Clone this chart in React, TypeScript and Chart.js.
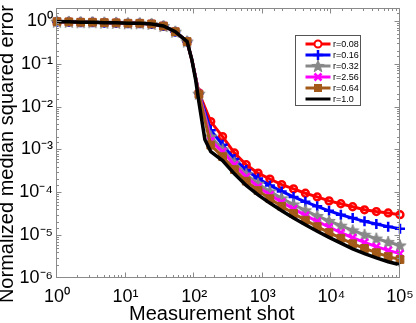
import React, { useEffect, useRef } from "react";
import { Chart, registerables } from "chart.js";

Chart.register(...registerables);

// Measurement shots (x) where the colored series are sampled; 92.5 is a knee point without marker
const shots = [1, 1.487, 2.212, 3.29, 4.894, 7.279, 10.83, 16.1, 23.95, 35.62, 52.98, 78.8, 92.5, 117.2, 174.3, 259.3, 385.7, 573.6, 853.2, 1269, 1887, 2807, 4175, 6210, 9237, 13738, 20434, 30392, 45204, 67234, 100000];
const knee = 92.5;

const early = [0.96, 0.95, 0.93, 0.93, 0.91, 0.9, 0.88, 0.88, 0.85, 0.76, 0.56, 0.33, 0.123];

const r008 = [...early, 0.0209, 4.47e-3, 2.0e-3, 8.3e-4, 4.4e-4, 2.8e-4, 2.04e-4, 1.51e-4, 1.2e-4, 9.5e-5, 7.8e-5, 6.3e-5, 5.4e-5, 4.6e-5, 3.9e-5, 3.55e-5, 3.3e-5, 3.0e-5];
const r016 = [...early, 0.0204, 2.82e-3, 1.29e-3, 6.0e-4, 3.3e-4, 2.09e-4, 1.45e-4, 1.05e-4, 7.8e-5, 6.0e-5, 4.7e-5, 3.7e-5, 3.0e-5, 2.5e-5, 2.1e-5, 1.82e-5, 1.58e-5, 1.41e-5];
const r032 = [...early, 0.02, 2.0e-3, 1.0e-3, 4.9e-4, 2.63e-4, 1.58e-4, 1.05e-4, 7.2e-5, 5.2e-5, 3.8e-5, 2.8e-5, 2.14e-5, 1.66e-5, 1.29e-5, 1.02e-5, 8.3e-6, 6.9e-6, 5.75e-6];
const r256 = [...early, 0.02, 1.58e-3, 8.9e-4, 4.4e-4, 2.29e-4, 1.35e-4, 8.7e-5, 5.9e-5, 4.1e-5, 2.9e-5, 2.1e-5, 1.55e-5, 1.15e-5, 8.7e-6, 6.8e-6, 5.4e-6, 4.4e-6, 3.7e-6];
const r064 = [...early, 0.0195, 1.26e-3, 6.8e-4, 3.4e-4, 1.82e-4, 1.1e-4, 7.1e-5, 4.7e-5, 3.2e-5, 2.24e-5, 1.58e-5, 1.15e-5, 8.5e-6, 6.3e-6, 4.9e-6, 3.9e-6, 3.16e-6, 2.7e-6];

// r = 1.0 curve (no markers), with a few extra samples in the steep drop
const shotsR1 = [1, 1.487, 2.212, 3.29, 4.894, 7.279, 10.83, 16.1, 23.95, 35.62, 52.98, 78.8, 92.5, 105, 117.2, 143, 174.3, 259.3, 385.7, 573.6, 853.2, 1269, 1887, 2807, 4175, 6210, 9237, 13738, 20434, 30392, 45204, 67234, 100000];
const r100 = [0.96, 0.95, 0.93, 0.93, 0.91, 0.9, 0.88, 0.88, 0.85, 0.76, 0.56, 0.33, 0.123, 0.042, 0.0126, 1.7e-3, 8.9e-4, 5.5e-4, 2.7e-4, 1.45e-4, 8.7e-5, 5.6e-5, 3.7e-5, 2.5e-5, 1.74e-5, 1.23e-5, 8.9e-6, 6.5e-6, 4.8e-6, 3.7e-6, 2.95e-6, 2.4e-6, 2.04e-6];

const labels = ["r=0.08", "r=0.16", "r=0.32", "r=2.56", "r=0.64", "r=1.0"];
const colors = ["#ff0000", "#0000ff", "#888888", "#ff00ff", "#a35a18", "#000000"];

const FONT = "'Liberation Sans', Arial, Helvetica, sans-serif";
const SUP: Record<string, string> = { "0": "⁰", "1": "¹", "2": "²", "3": "³", "4": "⁴", "5": "⁵", "6": "⁶", "7": "⁷", "8": "⁸", "9": "⁹", "-": "⁻" };

function isPow10(v: number) {
  const e = Math.round(Math.log10(v));
  return Math.abs(v / Math.pow(10, e) - 1) < 1e-6;
}
function powLabel(v: number) {
  if (!isPow10(v)) return "";
  const e = String(Math.round(Math.log10(v)));
  return "10" + e.split("").map((c) => SUP[c]).join("");
}

function makeStar(): HTMLCanvasElement {
  const c = document.createElement("canvas");
  c.width = 14;
  c.height = 14;
  const g = c.getContext("2d")!;
  g.beginPath();
  for (let i = 0; i < 10; i++) {
    const rad = i % 2 === 0 ? 6.5 : 2.7;
    const a = -Math.PI / 2 + (i * Math.PI) / 5;
    const px = 7 + rad * Math.cos(a);
    const py = 7.5 + rad * Math.sin(a);
    if (i === 0) g.moveTo(px, py);
    else g.lineTo(px, py);
  }
  g.closePath();
  g.fillStyle = "#888888";
  g.fill();
  g.strokeStyle = "#888888";
  g.lineWidth = 1;
  g.stroke();
  return c;
}

function drawMarker(ctx: CanvasRenderingContext2D, kind: string, x: number, y: number, color: string, star: HTMLCanvasElement) {
  ctx.save();
  ctx.strokeStyle = color;
  ctx.fillStyle = color;
  if (kind === "circle") {
    ctx.lineWidth = 2;
    ctx.fillStyle = "#fff";
    ctx.beginPath();
    ctx.arc(x, y, 3.5, 0, Math.PI * 2);
    ctx.fill();
    ctx.stroke();
  } else if (kind === "cross") {
    ctx.lineWidth = 2.5;
    ctx.beginPath();
    ctx.moveTo(x - 5, y);
    ctx.lineTo(x + 5, y);
    ctx.moveTo(x, y - 5);
    ctx.lineTo(x, y + 5);
    ctx.stroke();
  } else if (kind === "star") {
    ctx.drawImage(star, x - 7, y - 7);
  } else if (kind === "crossRot") {
    ctx.lineWidth = 2.5;
    ctx.beginPath();
    ctx.moveTo(x - 3.5, y - 3.5);
    ctx.lineTo(x + 3.5, y + 3.5);
    ctx.moveTo(x - 3.5, y + 3.5);
    ctx.lineTo(x + 3.5, y - 3.5);
    ctx.stroke();
  } else if (kind === "rect") {
    ctx.fillRect(x - 4, y - 4, 8, 8);
  }
  ctx.restore();
}

export default function App() {
  const ref = useRef<HTMLCanvasElement>(null);

  useEffect(() => {
    const star = makeStar();
    const kinds = ["circle", "cross", "star", "crossRot", "rect", "none"];

    const frame = {
      id: "frameTicks",
      afterDraw(chart: any) {
        const ctx = chart.ctx as CanvasRenderingContext2D;
        const { left, right, top, bottom } = chart.chartArea;
        ctx.save();
        ctx.strokeStyle = "#8a8a8a";
        ctx.lineWidth = 1;
        const L = Math.round(left) - 0.5;
        const R = Math.round(right) - 0.5;
        const T = Math.round(top) + 0.5;
        const B = Math.round(bottom) - 0.5;
        ctx.strokeRect(L, T, R - L, B - T);
        ctx.beginPath();
        const xs = chart.scales.x;
        for (const t of xs.ticks) {
          const p = Math.round(xs.getPixelForValue(t.value)) - 0.5;
          if (p < L - 0.1 || p > R + 0.1) continue;
          const len = isPow10(t.value) ? 5 : 2.5;
          ctx.moveTo(p, B);
          ctx.lineTo(p, B - len);
          ctx.moveTo(p, T);
          ctx.lineTo(p, T + len);
        }
        const ys = chart.scales.y;
        for (const t of ys.ticks) {
          const p = Math.round(ys.getPixelForValue(t.value)) + 0.5;
          if (p < T - 0.1 || p > B + 0.1) continue;
          const len = isPow10(t.value) ? 5 : 2.5;
          ctx.moveTo(L, p);
          ctx.lineTo(L + len, p);
          ctx.moveTo(R, p);
          ctx.lineTo(R - len, p);
        }
        ctx.stroke();
        ctx.restore();
      },
    };

    const boxLegend = {
      id: "boxLegend",
      afterDraw(chart: any) {
        const ctx = chart.ctx as CanvasRenderingContext2D;
        const { right, top } = chart.chartArea;
        const bx = Math.round(right) - 104.5;
        const by = Math.round(top) + 27.5;
        ctx.save();
        ctx.fillStyle = "#fff";
        ctx.fillRect(bx, by, 65, 70);
        ctx.strokeStyle = "#555";
        ctx.lineWidth = 1;
        ctx.strokeRect(bx, by, 65, 70);
        ctx.font = `9px ${FONT}`;
        ctx.textBaseline = "middle";
        ctx.textAlign = "left";
        chart.data.datasets.forEach((ds: any, i: number) => {
          const y = by + 8.5 + i * 11;
          ctx.strokeStyle = ds.borderColor;
          ctx.lineWidth = 3;
          ctx.beginPath();
          ctx.moveTo(bx + 10, y);
          ctx.lineTo(bx + 35, y);
          ctx.stroke();
          drawMarker(ctx, kinds[i], bx + 22.5, y, ds.borderColor, star);
          ctx.fillStyle = "#000";
          ctx.fillText(ds.label, bx + 37.5, y + 0.5);
        });
        ctx.restore();
      },
    };

    const series = [r008, r016, r032, r256, r064];
    const pointStyles: any[] = ["circle", "cross", star, "crossRot", "rect"];
    const radii = [3.4, 5, 5, 5, 5.5];
    const datasets: any[] = series.map((vals, i) => ({
      label: labels[i],
      data: shots.map((x, j) => ({ x, y: vals[j] })),
      borderColor: colors[i],
      backgroundColor: i === 0 ? "rgba(0,0,0,0)" : colors[i],
      borderWidth: 3,
      pointStyle: pointStyles[i],
      pointRadius: (c: any) => (shots[c.dataIndex] === knee ? 0 : radii[i]),
      pointBorderWidth: i === 4 ? 1 : 2.5,
      pointBorderColor: colors[i],
      pointBackgroundColor: i === 0 ? "rgba(0,0,0,0)" : colors[i],
      tension: 0,
      clip: false,
      order: 6 - i,
    }));
    datasets.push({
      label: labels[5],
      data: shotsR1.map((x, j) => ({ x, y: r100[j] })),
      borderColor: colors[5],
      backgroundColor: colors[5],
      borderWidth: 3.5,
      pointRadius: 0,
      tension: 0,
      clip: false,
      order: 1,
    });

    Chart.defaults.font.family = FONT;
    Chart.defaults.color = "#000";

    const chart = new Chart(ref.current!, {
      type: "line",
      data: { datasets },
      options: {
        animation: false,
        responsive: false,
        devicePixelRatio: 1,
        layout: { padding: { left: 0, top: 8, right: 16, bottom: 0 } },
        plugins: { legend: { display: false }, tooltip: { enabled: false } },
        scales: {
          x: {
            type: "logarithmic",
            min: 1,
            max: 100000,
            grid: { display: false, drawTicks: false },
            border: { display: false },
            ticks: {
              autoSkip: false,
              maxRotation: 0,
              minRotation: 0,
              padding: 8,
              font: { size: 18 },
              callback: (v: any) => powLabel(Number(v)),
            },
            title: {
              display: true,
              text: "Measurement shot      ",
              font: { size: 20, lineHeight: 0.9 },
              padding: 0,
            },
            afterFit: (s: any) => {
              s.height = 45;
              s.paddingLeft = 0;
              s.paddingRight = 0;
            },
          },
          y: {
            type: "logarithmic",
            min: 1e-6,
            max: 2,
            grid: { display: false, drawTicks: false },
            border: { display: false },
            ticks: {
              autoSkip: false,
              padding: 4,
              font: { size: 18 },
              callback: (v: any) => powLabel(Number(v)),
            },
            title: {
              display: true,
              text: "Normalized median squared error    ",
              font: { size: 20, lineHeight: 0.75 },
              padding: 0,
            },
            afterFit: (s: any) => {
              s.width = 57;
              s.paddingTop = 0;
              s.paddingBottom = 0;
            },
          },
        },
      },
      plugins: [frame, boxLegend],
    });
    return () => chart.destroy();
  }, []);

  return (
    <div style={{ position: "fixed", left: 0, top: 0, width: 416, height: 323, background: "#fff" }}>
      <canvas ref={ref} width={416} height={323} style={{ display: "block", width: 416, height: 323 }} />
    </div>
  );
}
